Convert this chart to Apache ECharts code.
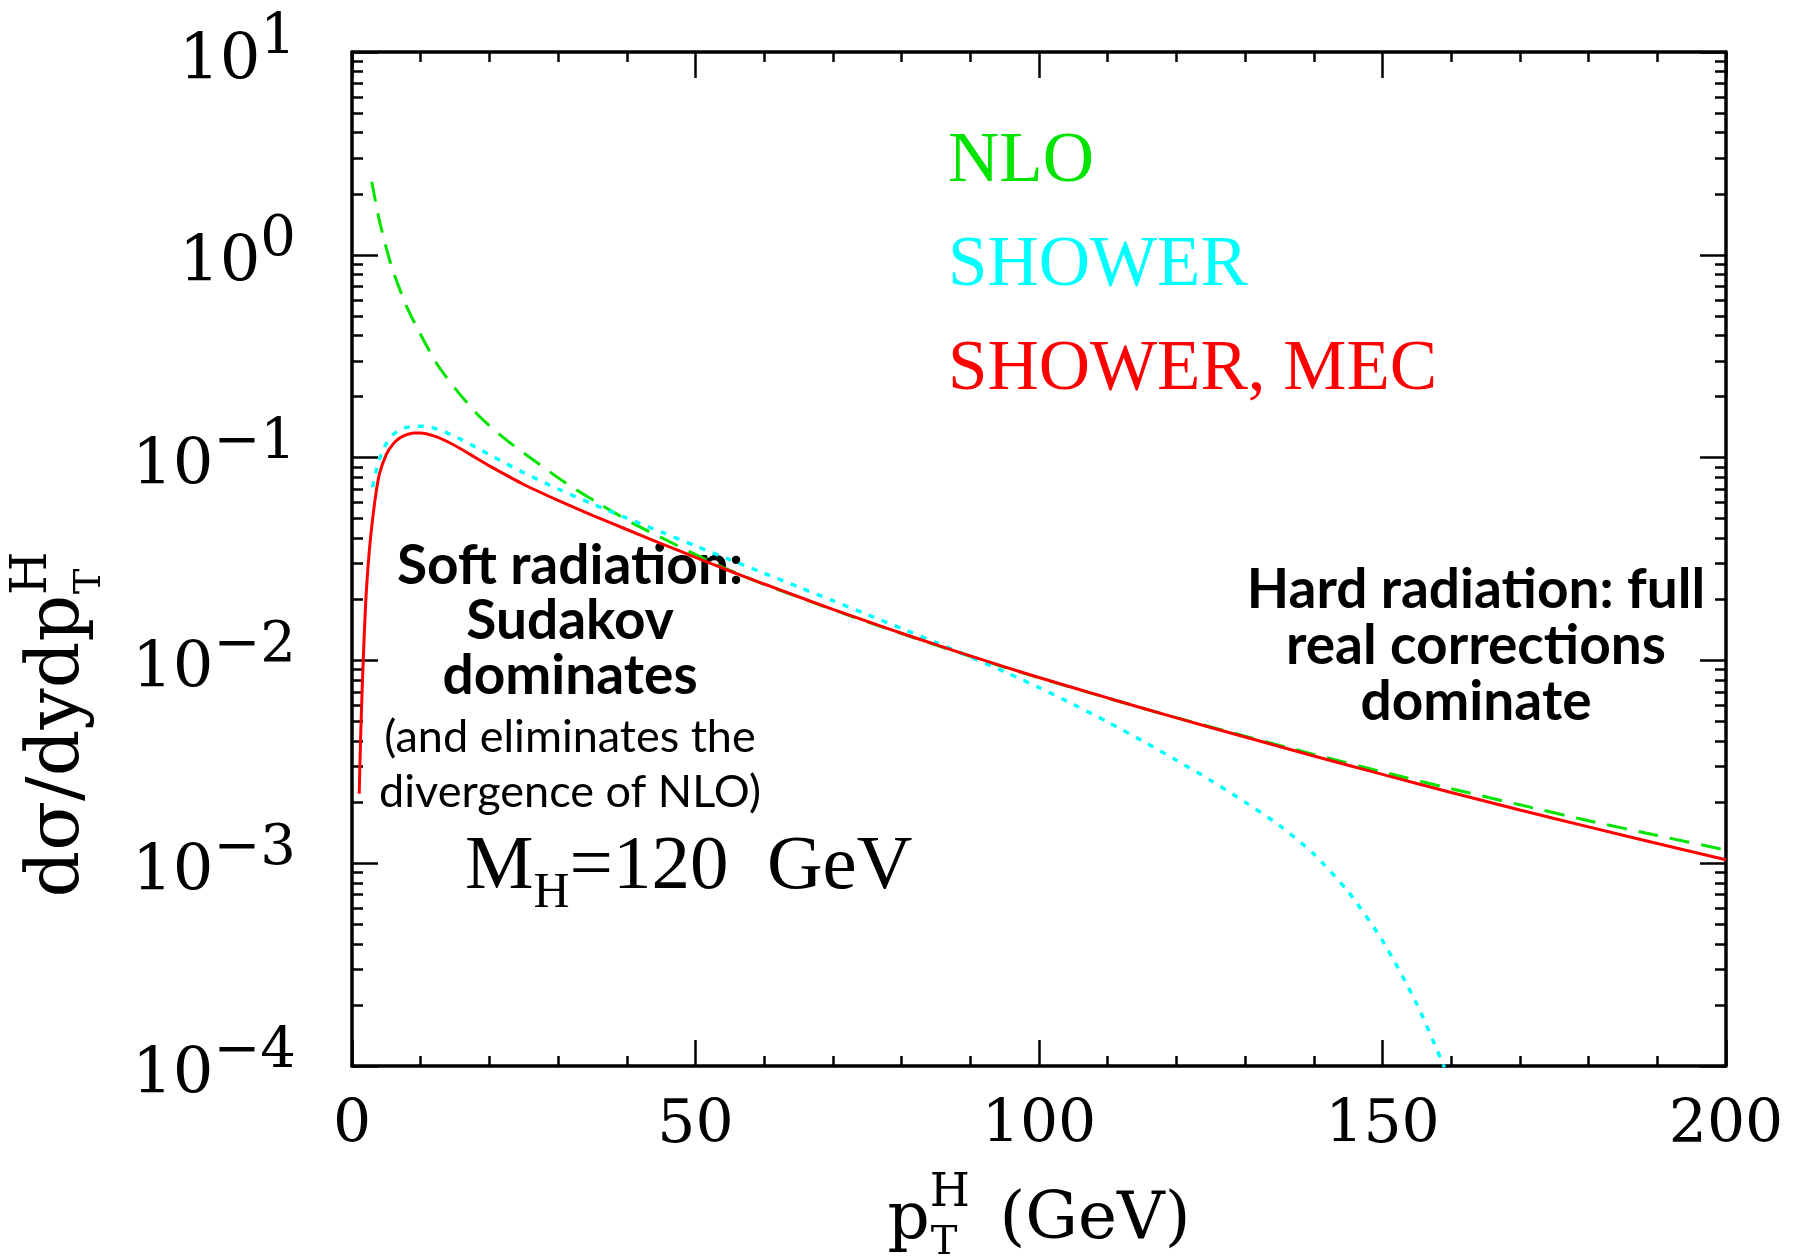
<!DOCTYPE html>
<html>
<head>
<meta charset="utf-8">
<title>Higgs pT spectrum: NLO vs shower</title>
<script src="https://cdn.jsdelivr.net/npm/echarts@6/dist/echarts.min.js"></script>
<style>
html, body { margin: 0; padding: 0; background: #fff; }
#main { width: 1794px; height: 1260px; }
</style>
</head>
<body>
<div id="main"></div>
<script>
let myChart = echarts.init(document.getElementById('main'));

// values: pT in GeV, dsigma/dy/dpT
let nloPt = [2.87, 4.08, 5.78, 7.96, 9.9, 12.3, 15.2, 18.6, 22.5, 26.4, 31.2, 36.1, 40.9, 44.8, 50.7,
    55, 60, 65, 70, 75, 80, 85, 90, 95, 100, 110, 120, 130, 140, 150, 160, 170, 180, 190, 200];
let nloVal = [2.29, 1.43, 0.871, 0.555, 0.410, 0.292, 0.215, 0.159, 0.122, 0.0973, 0.0746, 0.0589, 0.0474, 0.0407, 0.0324,
    0.0278, 0.0237, 0.0205, 0.0178, 0.0155, 0.01355, 0.0119, 0.01047, 0.00925, 0.0082, 0.00652, 0.00522, 0.00423, 0.00344, 0.00282, 0.00233, 0.00194, 0.00162, 0.00137, 0.00116];

let showerPt = [3.0, 3.5, 4, 5, 6, 7, 8, 9, 10, 12, 14, 16, 18, 20, 22.5, 25, 30, 35, 40, 45, 50,
    55, 60, 65, 70, 75, 80, 85, 90, 95, 100, 105, 110, 115, 120, 125, 130, 135, 140, 145, 150, 155, 159];
let showerVal = [0.0714, 0.0859, 0.0986, 0.1175, 0.130, 0.1374, 0.1409, 0.1426, 0.1429, 0.1396, 0.1318, 0.1223, 0.1126, 0.1034, 0.0931, 0.0842, 0.0700, 0.0591, 0.0503, 0.0430, 0.0367,
    0.0314, 0.0269, 0.0230, 0.0197, 0.01683, 0.01437, 0.01225, 0.01039, 0.00878, 0.00735, 0.00607, 0.00497, 0.00402, 0.00322, 0.00256, 0.0020, 0.001535, 0.00111, 0.000724, 0.000415, 0.000202, 0.0000985];

let mecPt = [1.05, 1.3, 1.6, 2.0, 2.5, 3.0, 3.5, 4, 5, 6, 7, 8, 9, 10, 12, 14, 16, 18, 20, 25, 30, 35, 40, 45, 50,
    55, 60, 65, 70, 75, 80, 85, 90, 95, 100, 110, 120, 130, 140, 150, 160, 170, 180, 190, 200];
let mecVal = [0.0022, 0.0047, 0.0093, 0.0195, 0.034, 0.0497, 0.067, 0.0834, 0.1038, 0.1169, 0.1253, 0.130, 0.1324, 0.1324, 0.1276, 0.1194, 0.1096, 0.0998, 0.0910, 0.0737, 0.0615, 0.0519, 0.0442, 0.0377, 0.0322,
    0.0276, 0.0238, 0.0206, 0.01786, 0.01557, 0.01361, 0.01196, 0.01052, 0.00929, 0.00824, 0.00653, 0.00521, 0.00419, 0.00338, 0.00274, 0.00223, 0.00183, 0.00151, 0.00125, 0.00104];

let seriesNames = ['NLO', 'SHOWER', 'SHOWER, MEC'];
let seriesColors = ['#00e400', '#00ffff', '#ff0000'];

function pairs(xs, ys) {
    return xs.map(function (x, i) { return [x, ys[i]]; });
}

// log-spaced minor tick positions (in decades) for the overlay axes
let minorLog = [];
for (let e = -4; e < 1; e++) {
    for (let k = 2; k <= 9; k++) {
        minorLog.push(e + Math.log10(k));
    }
}

let serif = 'Liberation Serif';
let wide = 'DejaVu Serif';

let majorTick = { show: true, inside: true, length: 26, lineStyle: { color: '#000', width: 2.5 } };
let minorXTick = { show: true, splitNumber: 5, length: 10, lineStyle: { color: '#000', width: 2.5 } };
let minorYTick = { show: true, inside: true, length: 11, customValues: minorLog, lineStyle: { color: '#000', width: 2.5 } };
let frameLine = { show: true, onZero: false, lineStyle: { color: '#000', width: 3.5 } };

function expLabel(v) {
    let e = Math.round(Math.log10(v));
    return '{b|10}{s|' + String(e).replace('-', '\u2212') + '}';
}

let option = {
    animation: false,
    backgroundColor: '#fff',
    grid: { left: 352, right: 68, top: 52, bottom: 194, containLabel: false, outerBoundsMode: 'none' },
    legend: {
        orient: 'vertical',
        left: 938,
        top: 105,
        icon: 'none',
        itemWidth: 0,
        itemHeight: 0,
        itemGap: 0,
        selectedMode: false,
        textStyle: { fontFamily: serif, fontSize: 71, lineHeight: 104 },
        data: [
            { name: 'NLO', textStyle: { color: seriesColors[0] } },
            { name: 'SHOWER', textStyle: { color: seriesColors[1] } },
            { name: 'SHOWER, MEC', textStyle: { color: seriesColors[2] } }
        ]
    },
    xAxis: [
        {
            type: 'value',
            min: 0,
            max: 200,
            interval: 50,
            position: 'bottom',
            axisLine: frameLine,
            axisTick: majorTick,
            minorTick: minorXTick,
            splitLine: { show: false },
            axisLabel: { margin: 30, fontFamily: wide, fontSize: 60, color: '#000', showMinLabel: true, showMaxLabel: true },
            name: '{p|p}{h|H}{t|T}{g|  (GeV)}',
            nameLocation: 'middle',
            nameGap: 105,
            nameTextStyle: {
                color: '#000',
                rich: {
                    p: { fontFamily: wide, fontSize: 66, lineHeight: 93, padding: [17, 0, 10, 0], verticalAlign: 'top', align: 'left' },
                    g: { fontFamily: wide, fontSize: 66, lineHeight: 93, padding: [17, 0, 10, 0], verticalAlign: 'top', align: 'left' },
                    h: { fontFamily: wide, fontSize: 46, lineHeight: 46, width: 1, verticalAlign: 'top', align: 'left' },
                    t: { fontFamily: wide, fontSize: 40, lineHeight: 40, verticalAlign: 'bottom', align: 'left' }
                }
            }
        },
        {
            type: 'value',
            min: 0,
            max: 200,
            interval: 50,
            position: 'top',
            axisLine: frameLine,
            axisTick: majorTick,
            minorTick: minorXTick,
            splitLine: { show: false },
            axisLabel: { show: false }
        }
    ],
    yAxis: [
        {
            type: 'log',
            min: 1e-4,
            max: 10,
            position: 'left',
            axisLine: frameLine,
            axisTick: majorTick,
            splitLine: { show: false },
            axisLabel: {
                margin: 56,
                color: '#000',
                showMinLabel: true,
                showMaxLabel: true,
                formatter: expLabel,
                rich: {
                    b: { fontFamily: wide, fontSize: 64, lineHeight: 84, padding: [20, 0, 0, 0], verticalAlign: 'bottom' },
                    s: { fontFamily: wide, fontSize: 56, lineHeight: 56, verticalAlign: 'top' }
                }
            },
            name: '{d|d\u03c3/dydp}{h|H}{t|T}',
            nameLocation: 'middle',
            nameRotate: 90,
            nameGap: 243,
            nameTextStyle: {
                color: '#000',
                padding: [0, 348, 0, 0],
                rich: {
                    d: { fontFamily: wide, fontSize: 73, lineHeight: 101, padding: [15, 0, 13, 0], verticalAlign: 'top', align: 'left' },
                    h: { fontFamily: wide, fontSize: 50, lineHeight: 50, width: 1, verticalAlign: 'top', align: 'left' },
                    t: { fontFamily: wide, fontSize: 38, lineHeight: 38, verticalAlign: 'bottom', align: 'left' }
                }
            }
        },
        {
            type: 'log',
            min: 1e-4,
            max: 10,
            position: 'right',
            axisLine: frameLine,
            axisTick: majorTick,
            splitLine: { show: false },
            axisLabel: { show: false }
        },
        {
            type: 'value',
            min: -4,
            max: 1,
            position: 'left',
            axisLine: { show: false, onZero: false },
            axisTick: minorYTick,
            splitLine: { show: false },
            axisLabel: { show: false }
        },
        {
            type: 'value',
            min: -4,
            max: 1,
            position: 'right',
            axisLine: { show: false, onZero: false },
            axisTick: minorYTick,
            splitLine: { show: false },
            axisLabel: { show: false }
        }
    ],
    series: [
        {
            name: seriesNames[0],
            type: 'line',
            data: pairs(nloPt, nloVal),
            showSymbol: false,
            smooth: 0.25,
            color: seriesColors[0],
            lineStyle: { color: seriesColors[0], width: 3, type: [20, 12] },
            z: 2
        },
        {
            name: seriesNames[1],
            type: 'line',
            data: pairs(showerPt, showerVal),
            showSymbol: false,
            smooth: 0.25,
            color: seriesColors[1],
            lineStyle: { color: seriesColors[1], width: 3.5, type: [6, 8] },
            z: 3
        },
        {
            name: seriesNames[2],
            type: 'line',
            data: pairs(mecPt, mecVal),
            showSymbol: false,
            smooth: 0.25,
            color: seriesColors[2],
            lineStyle: { color: seriesColors[2], width: 3 },
            z: 4
        }
    ],
    graphic: [
        {
            type: 'text',
            x: 570,
            y: 539,
            style: {
                text: 'Soft radiation:\nSudakov\ndominates',
                font: 'bold 55px Lato',
                fill: '#000',
                textAlign: 'center',
                textVerticalAlign: 'top',
                lineHeight: 55
            }
        },
        {
            type: 'text',
            x: 570,
            y: 710,
            style: {
                text: '(and eliminates the\ndivergence of NLO)',
                font: '45px Lato',
                fill: '#000',
                textAlign: 'center',
                textVerticalAlign: 'top',
                lineHeight: 55
            }
        },
        {
            type: 'text',
            x: 1476,
            y: 562,
            style: {
                text: 'Hard radiation: full\nreal corrections\ndominate',
                font: 'bold 55px Lato',
                fill: '#000',
                textAlign: 'center',
                textVerticalAlign: 'top',
                lineHeight: 56
            }
        },
        {
            type: 'text',
            x: 465,
            y: 829,
            style: {
                text: '{m|M}{s|H}{m|=120  GeV}',
                fill: '#000',
                textAlign: 'left',
                textVerticalAlign: 'top',
                rich: {
                    m: { fontFamily: serif, fontSize: 77, lineHeight: 90, padding: [0, 0, 13, 0], verticalAlign: 'top', align: 'left' },
                    s: { fontFamily: serif, fontSize: 50, lineHeight: 50, verticalAlign: 'bottom', align: 'left' }
                }
            }
        }
    ]
};

myChart.setOption(option);
</script>
</body>
</html>
